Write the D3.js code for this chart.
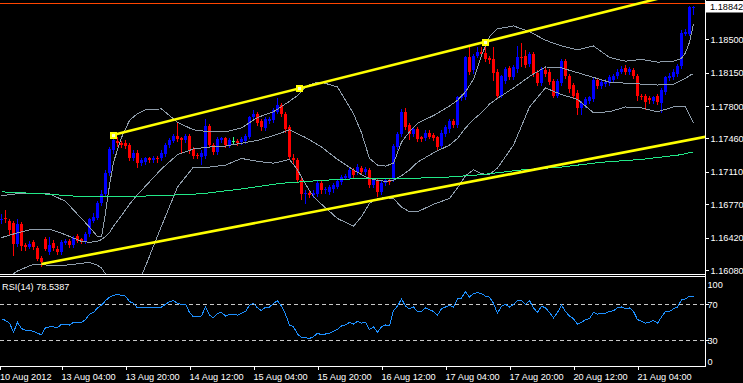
<!DOCTYPE html>
<html><head><meta charset="utf-8">
<script src="https://cdn.jsdelivr.net/npm/d3@7"></script>
<style>
html,body{margin:0;padding:0;background:#000;overflow:hidden;}
svg{display:block;}
text{font-family:"Liberation Sans",Arial,sans-serif;}
</style></head><body>
<svg id="c" width="743" height="383"></svg>
<script>
// ---------- DATA (EURUSD H1) ----------
const open = [1.1660,1.1663,1.1659,1.1657,1.1635,1.1656,1.1634,1.1632,1.1637,1.1631,
 1.1621,1.1640,1.1627,1.1636,1.1630,1.1627,1.1636,1.1638,1.1634,1.1644,
 1.1640,1.1638,1.1646,1.1659,1.1663,1.1678,1.1688,1.1710,1.1734,1.1743,
 1.1741,1.1741,1.1739,1.1725,1.1731,1.1720,1.1721,1.1725,1.1723,1.1726,
 1.1725,1.1730,1.1739,1.1743,1.1749,1.1746,1.1744,1.1749,1.1735,1.1729,
 1.1727,1.1728,1.1759,1.1739,1.1732,1.1744,1.1746,1.1739,1.1743,1.1743,
 1.1742,1.1743,1.1748,1.1768,1.1772,1.1764,1.1757,1.1764,1.1765,1.1774,
 1.1781,1.1772,1.1758,1.1726,1.1723,1.1702,1.1688,1.1689,1.1687,1.1688,
 1.1699,1.1692,1.1690,1.1693,1.1695,1.1700,1.1705,1.1705,1.1713,1.1711,
 1.1715,1.1711,1.1713,1.1697,1.1702,1.1690,1.1699,1.1702,1.1703,1.1737,
 1.1751,1.1774,1.1760,1.1751,1.1756,1.1747,1.1746,1.1752,1.1750,1.1747,
 1.1738,1.1751,1.1756,1.1764,1.1760,1.1788,1.1789,1.1831,1.1818,1.1833,
 1.1837,1.1836,1.1830,1.1829,1.1816,1.1791,1.1806,1.1820,1.1810,1.1819,
 1.1831,1.1833,1.1824,1.1835,1.1815,1.1804,1.1818,1.1816,1.1806,1.1791,
 1.1804,1.1827,1.1812,1.1802,1.1794,1.1778,1.1781,1.1785,1.1787,1.1807,
 1.1801,1.1803,1.1804,1.1807,1.1811,1.1816,1.1820,1.1816,1.1818,1.1812,
 1.1791,1.1791,1.1788,1.1785,1.1791,1.1783,1.1795,1.1809,1.1810,1.1814,
 1.1822,1.1856,1.1856,1.1884];
const high = [1.1667,1.1671,1.1661,1.1659,1.1662,1.1658,1.1636,1.1638,1.1639,1.1633,
 1.1623,1.1643,1.1643,1.1639,1.1633,1.1639,1.1640,1.1640,1.1644,1.1646,
 1.1642,1.1648,1.1663,1.1668,1.1680,1.1692,1.1713,1.1737,1.1749,1.1748,
 1.1743,1.1744,1.1741,1.1734,1.1734,1.1725,1.1727,1.1727,1.1728,1.1728,
 1.1734,1.1741,1.1746,1.1751,1.1762,1.1748,1.1751,1.1751,1.1737,1.1731,
 1.1734,1.1766,1.1761,1.1741,1.1747,1.1748,1.1748,1.1746,1.1747,1.1745,
 1.1747,1.1751,1.1770,1.1776,1.1774,1.1766,1.1768,1.1768,1.1778,1.1788,
 1.1783,1.1774,1.1760,1.1730,1.1725,1.1704,1.1692,1.1692,1.1692,1.1701,
 1.1701,1.1695,1.1697,1.1699,1.1703,1.1708,1.1709,1.1715,1.1715,1.1719,
 1.1717,1.1716,1.1715,1.1704,1.1704,1.1701,1.1704,1.1704,1.1740,1.1753,
 1.1777,1.1778,1.1762,1.1758,1.1758,1.1749,1.1755,1.1755,1.1752,1.1749,
 1.1755,1.1760,1.1766,1.1766,1.1791,1.1793,1.1833,1.1842,1.1835,1.1842,
 1.1842,1.1847,1.1832,1.1842,1.1819,1.1813,1.1821,1.1822,1.1823,1.1843,
 1.1846,1.1839,1.1837,1.1837,1.1818,1.1821,1.1820,1.1819,1.1808,1.1808,
 1.1829,1.1829,1.1814,1.1804,1.1797,1.1785,1.1789,1.1791,1.1809,1.1809,
 1.1807,1.1808,1.1813,1.1814,1.1819,1.1822,1.1823,1.1821,1.1820,1.1814,
 1.1793,1.1793,1.1790,1.1791,1.1793,1.1799,1.1812,1.1815,1.1819,1.1824,
 1.1860,1.1861,1.1885,1.1885];
const low = [1.1657,1.1658,1.1645,1.1624,1.1633,1.1629,1.1629,1.1631,1.1630,1.1618,
 1.1612,1.1629,1.1625,1.1629,1.1625,1.1625,1.1635,1.1632,1.1632,1.1637,
 1.1636,1.1636,1.1644,1.1658,1.1662,1.1676,1.1686,1.1708,1.1731,1.1738,
 1.1737,1.1736,1.1723,1.1723,1.1716,1.1718,1.1719,1.1721,1.1721,1.1721,
 1.1723,1.1728,1.1737,1.1742,1.1743,1.1732,1.1742,1.1731,1.1726,1.1725,
 1.1719,1.1726,1.1737,1.1730,1.1730,1.1742,1.1737,1.1737,1.1740,1.1739,
 1.1740,1.1741,1.1746,1.1766,1.1760,1.1755,1.1755,1.1762,1.1763,1.1773,
 1.1770,1.1753,1.1725,1.1720,1.1700,1.1683,1.1678,1.1685,1.1685,1.1686,
 1.1689,1.1689,1.1688,1.1690,1.1694,1.1698,1.1703,1.1704,1.1706,1.1709,
 1.1709,1.1709,1.1695,1.1695,1.1686,1.1688,1.1697,1.1698,1.1701,1.1735,
 1.1749,1.1756,1.1745,1.1749,1.1743,1.1743,1.1744,1.1746,1.1744,1.1735,
 1.1736,1.1749,1.1753,1.1758,1.1758,1.1786,1.1787,1.1814,1.1815,1.1831,
 1.1833,1.1827,1.1825,1.1807,1.1789,1.1789,1.1804,1.1808,1.1808,1.1816,
 1.1822,1.1821,1.1822,1.1812,1.1802,1.1802,1.1812,1.1803,1.1789,1.1789,
 1.1802,1.1809,1.1795,1.1788,1.1772,1.1772,1.1779,1.1783,1.1785,1.1799,
 1.1799,1.1801,1.1802,1.1805,1.1809,1.1815,1.1814,1.1814,1.1809,1.1786,
 1.1787,1.1777,1.1783,1.1783,1.1782,1.1774,1.1793,1.1807,1.1808,1.1812,
 1.1820,1.1854,1.1854,1.1877];
const close = [1.1662,1.1661,1.1650,1.1635,1.1656,1.1633,1.1632,1.1635,1.1632,1.1620,
 1.1616,1.1630,1.1634,1.1631,1.1627,1.1637,1.1638,1.1634,1.1642,1.1638,
 1.1638,1.1646,1.1661,1.1664,1.1678,1.1688,1.1710,1.1735,1.1744,1.1741,
 1.1739,1.1738,1.1725,1.1731,1.1720,1.1723,1.1725,1.1723,1.1726,1.1724,
 1.1731,1.1739,1.1744,1.1749,1.1745,1.1744,1.1749,1.1734,1.1728,1.1728,
 1.1731,1.1759,1.1739,1.1732,1.1745,1.1746,1.1739,1.1744,1.1743,1.1741,
 1.1745,1.1749,1.1768,1.1772,1.1762,1.1758,1.1766,1.1766,1.1776,1.1781,
 1.1772,1.1756,1.1727,1.1723,1.1702,1.1688,1.1689,1.1687,1.1689,1.1699,
 1.1692,1.1693,1.1695,1.1697,1.1701,1.1706,1.1707,1.1713,1.1708,1.1716,
 1.1711,1.1714,1.1697,1.1702,1.1690,1.1699,1.1702,1.1700,1.1738,1.1751,
 1.1774,1.1758,1.1751,1.1756,1.1745,1.1745,1.1752,1.1748,1.1746,1.1737,
 1.1752,1.1758,1.1764,1.1760,1.1789,1.1791,1.1831,1.1816,1.1833,1.1837,
 1.1835,1.1829,1.1828,1.1815,1.1791,1.1811,1.1819,1.1810,1.1821,1.1831,
 1.1830,1.1823,1.1835,1.1814,1.1804,1.1819,1.1814,1.1805,1.1791,1.1806,
 1.1827,1.1811,1.1798,1.1790,1.1778,1.1783,1.1787,1.1789,1.1807,1.1801,
 1.1805,1.1805,1.1810,1.1812,1.1816,1.1819,1.1816,1.1819,1.1811,1.1791,
 1.1789,1.1784,1.1786,1.1789,1.1784,1.1797,1.1810,1.1811,1.1816,1.1822,
 1.1857,1.1858,1.1884,1.18842];

// Bollinger bands (read at these bar indices)
const bandIdx = [0,4,8,12,16,20,22,24,25,26,27,28,30,32,34,36,40,44,48,52,56,60,64,68,72,74,76,78,80,
 84,88,90,92,94,96,98,100,102,104,108,112,114,116,118,120,122,124,128,132,136,140,144,148,152,156,160,164,168,170,171,172,173];
const bandUpper = [1.1686,1.1688,1.1688,1.1688,1.1680,1.1662,1.1653,1.1643,1.1643,1.1668,1.1697,1.1721,1.1747,1.1765,1.1772,1.1776,1.1777,1.1763,1.1755,1.1753,1.1753,1.1757,1.1768,1.1774,1.1785,1.1791,1.1800,1.1804,1.1805,
 1.1800,1.1772,1.1752,1.1725,1.1718,1.1717,1.1720,1.1742,1.1753,1.1762,1.1770,1.1780,1.1786,1.1795,1.1808,1.1833,1.1853,1.1861,1.1864,1.1858,1.1849,1.1843,1.1839,1.1843,1.1831,1.1827,1.1829,1.1826,1.1827,1.1830,1.1836,1.1847,1.1866];
const bandMiddle = [1.1642,1.1647,1.1651,1.1651,1.1645,1.1638,1.1637,1.1638,1.1640,1.1643,1.1647,1.1654,1.1665,1.1677,1.1687,1.1696,1.1714,1.1729,1.1735,1.1737,1.1738,1.1741,1.1744,1.1749,1.1755,1.1751,1.1747,1.1742,1.1737,
 1.1724,1.1713,1.1708,1.1704,1.1702,1.1701,1.1702,1.1707,1.1713,1.1721,1.1731,1.1739,1.1746,1.1757,1.1766,1.1773,1.1782,1.1788,1.1799,1.1811,1.1821,1.1820,1.1815,1.1810,1.1805,1.1804,1.1803,1.1802,1.1803,1.1807,1.1809,1.1812,1.1814];
const bandLower = [1.1595,1.1607,1.1614,1.1613,1.1613,1.1615,1.1616,1.1613,1.1610,1.1604,1.1598,1.1591,1.1584,1.1583,1.1592,1.1612,1.1654,1.1695,1.1716,1.1716,1.1718,1.1725,1.1722,1.1720,1.1724,1.1713,1.1698,1.1685,1.1677,
 1.1662,1.1654,1.1664,1.1678,1.1683,1.1684,1.1683,1.1674,1.1669,1.1669,1.1677,1.1683,1.1694,1.1707,1.1713,1.1709,1.1708,1.1715,1.1739,1.1779,1.1799,1.1792,1.1787,1.1773,1.1774,1.1779,1.1778,1.1774,1.1779,1.1780,1.1779,1.1771,1.1762];

// Long moving average (green)
const maIdx = [0,10,20,30,40,50,60,70,80,90,100,110,120,130,140,150,160,170,173];
const maVal = [1.1690,1.1688,1.1685,1.1685,1.1686,1.1688,1.1693,1.1699,1.1702,1.1704,1.1704,1.1705,1.1708,1.1713,1.1716,1.1721,1.1724,1.1729,1.1732];

// RSI(14)
const rsi = [54,52,49,39,50,43,41,41,40,38, 36,44,45,45,44,48,48,47,50,50,
 50,53,59,61,66,69,74,78,80,81, 80,79,73,71,66,66,66,66,66,67,
 67,70,73,74,71,70,70,61,56,56, 57,67,58,55,60,61,57,59,59,58,
 60,62,69,71,66,63,67,67,71,74, 68,59,47,45,37,33,33,32,34,38,
 36,37,38,40,42,46,47,50,48,51, 49,50,42,45,39,45,47,46,63,68,
 76,68,65,67,62,62,66,64,62,58, 65,67,69,67,76,77,84,78,82,83,
 82,79,78,71,60,68,70,67,70,74, 74,70,74,66,61,68,66,61,55,61,
 69,62,57,54,48,50,53,54,61,59, 60,60,62,63,66,67,65,66,62,53,
 51,49,50,52,49,56,62,62,65,67, 75,76,79,78.5387];
const rsiLevels = [70,30];
const rsiAxisTicks = [100,70,30,0];

// Trend lines & horizontal level
const trendUpIdx = [27.85,74.35,120.85];
const trendUpPrice = [1.17496,1.17984,1.18472];
const trendLowIdx = [10,174];
const trendLowPrice = [1.16143,1.17462];
const hLevel = 1.18886;
const lastPrice = 1.18842;

// Axis labels
const priceTicks = [1.16080,1.16420,1.16770,1.17110,1.17460,1.17800,1.18150,1.18500];
const timeIdx = [-0.4,15,31,47,63,79,95,111,127,143,159];
const timeLabels = ["10 Aug 2012","13 Aug 04:00","13 Aug 20:00","14 Aug 12:00","15 Aug 04:00","15 Aug 20:00","16 Aug 12:00","17 Aug 04:00","17 Aug 20:00","20 Aug 12:00","21 Aug 04:00"];

// ---------- LAYOUT ----------
const W=743,H=383, PR=705;
const MAIN_B=274.5, RSI_T=276.5, RSI_B=366.5;
const FONT=9.2;
const svg=d3.select("#c");
svg.append("rect").attr("width",W).attr("height",H).attr("fill","#000");
const defs=svg.append("defs");
defs.append("clipPath").attr("id","cm").append("rect").attr("x",0).attr("y",0).attr("width",PR).attr("height",274);
defs.append("clipPath").attr("id","cr").append("rect").attr("x",0).attr("y",277).attr("width",PR).attr("height",89);

const N=close.length;
const x=d3.scaleLinear().domain([0,N-1]).range([1.5,1.5+4*(N-1)]);
const y=d3.scaleLinear().domain([1.16080,1.18500]).range([270,39.3]);
const yr=d3.scaleLinear().domain([0,100]).range([367.3,277.3]);

const gm=svg.append("g").attr("clip-path","url(#cm)");
// candles
const cg=gm.append("g").attr("shape-rendering","crispEdges");
for(let i=0;i<N;i++){
  const cx=x(i);
  const col = close[i]>open[i] ? "#0000ff" : (close[i]<open[i] ? "#ff0000" : "#33ff88");
  const yh=Math.round(y(high[i])), yl=Math.round(y(low[i]));
  cg.append("rect").attr("x",cx-0.5).attr("y",yh).attr("width",1).attr("height",Math.max(1,yl-yh+1)).attr("fill",col);
  const yo=y(open[i]), yc=y(close[i]);
  const t=Math.round(Math.min(yo,yc)), b=Math.round(Math.max(yo,yc));
  cg.append("rect").attr("x",cx-1.5).attr("y",t).attr("width",3).attr("height",Math.max(1,b-t)).attr("fill",col);
}
// indicator lines
function path(idx,vals,ys){return d3.line().x((d,k)=>x(idx[k])).y(d=>ys(d))(vals);}
const lg=gm.append("g").attr("fill","none").attr("stroke-width",1).attr("shape-rendering","crispEdges");
[bandUpper,bandMiddle,bandLower].forEach(b=>{
  lg.append("path").attr("d",path(bandIdx,b,y)).attr("stroke","#8f9dab");
});
lg.append("path").attr("d",path(maIdx,maVal,y)).attr("stroke","#22e888");
// horizontal level
gm.append("line").attr("x1",0).attr("x2",PR).attr("y1",Math.round(y(hLevel))+0.5).attr("y2",Math.round(y(hLevel))+0.5)
  .attr("stroke","#ff4500").attr("stroke-width",1).attr("shape-rendering","crispEdges");
// trend lines
function ext(idx,pr){
  const s=(pr[pr.length-1]-pr[0])/(idx[idx.length-1]-idx[0]);
  const iEnd=x.invert(PR+2);
  return [[x(idx[0]),y(pr[0])],[x(iEnd),y(pr[0]+s*(iEnd-idx[0]))]];
}
const tg=gm.append("g").attr("stroke","#ffff00").attr("stroke-width",2.6).attr("fill","none");
tg.append("path").attr("d",d3.line()(ext(trendUpIdx,trendUpPrice)));
tg.append("path").attr("d",d3.line()(ext(trendLowIdx,trendLowPrice)));
trendUpIdx.forEach((d,k)=>{
  const px=Math.round(x(d)), py=Math.round(y(trendUpPrice[k]));
  gm.append("rect").attr("x",px-3).attr("y",py-3).attr("width",7).attr("height",7).attr("fill","#ffff00");
  gm.append("rect").attr("x",px-1).attr("y",py-1).attr("width",3).attr("height",3).attr("fill","#ffffd0");
});

// RSI panel
const gr=svg.append("g").attr("clip-path","url(#cr)");
rsiLevels.forEach(l=>{
  gr.append("line").attr("x1",0).attr("x2",PR).attr("y1",Math.round(yr(l))+0.5).attr("y2",Math.round(yr(l))+0.5)
   .attr("stroke","#c8c8c8").attr("stroke-dasharray","4,3").attr("shape-rendering","crispEdges");
});
gr.append("path").attr("d",d3.line().x((d,i)=>x(i)).y(d=>yr(d))(rsi)).attr("fill","none").attr("stroke","#1e90ff").attr("stroke-width",1).attr("shape-rendering","crispEdges");
svg.append("text").attr("x",2).attr("y",290).attr("fill","#fff").attr("font-size",FONT)
  .text("RSI(14) "+rsi[rsi.length-1]);

// frame
const fg=svg.append("g").attr("stroke","#fff").attr("stroke-width",1).attr("shape-rendering","crispEdges");
fg.append("line").attr("x1",0).attr("x2",PR+1).attr("y1",MAIN_B).attr("y2",MAIN_B);
fg.append("line").attr("x1",0).attr("x2",PR+1).attr("y1",RSI_T).attr("y2",RSI_T);
fg.append("line").attr("x1",0).attr("x2",PR+1).attr("y1",RSI_B).attr("y2",RSI_B);
fg.append("line").attr("x1",PR+0.5).attr("x2",PR+0.5).attr("y1",0).attr("y2",RSI_B+0.5);

// price axis
const ya=svg.append("g").attr("transform",`translate(${PR+0.5},0)`)
  .call(d3.axisRight(y).tickValues(priceTicks).tickFormat(d3.format(".5f")).tickSize(3).tickPadding(2));
ya.select(".domain").remove();
ya.selectAll("line").attr("stroke","#fff").attr("shape-rendering","crispEdges");
ya.selectAll("text").attr("fill","#fff").attr("font-size",FONT).attr("font-family","Liberation Sans, Arial, sans-serif").attr("x",5).attr("dy","0.34em");
// last price label
svg.append("rect").attr("x",PR+1).attr("y",1).attr("width",W-PR-1).attr("height",11.5).attr("fill","#fff");
svg.append("text").attr("x",PR+5).attr("y",y(lastPrice)).attr("dy","0.34em").attr("fill","#000").attr("font-size",FONT).text(d3.format(".5f")(lastPrice));

// RSI axis
const ra=svg.append("g").attr("transform",`translate(${PR+0.5},0)`)
  .call(d3.axisRight(yr).tickValues(rsiAxisTicks).tickFormat(d3.format("d")).tickSize(3).tickPadding(2));
ra.select(".domain").remove();
ra.selectAll("line").attr("stroke",d=>(d===100||d===0)?"none":"#fff").attr("shape-rendering","crispEdges");
ra.selectAll("text").attr("fill","#fff").attr("font-size",FONT).attr("font-family","Liberation Sans, Arial, sans-serif").attr("x",2)
  .attr("dy",d=> d===100?"1.1em":(d===0?"-0.3em":"0.34em"));

// time axis
const xa=svg.append("g").attr("transform",`translate(0,${RSI_B})`)
  .call(d3.axisBottom(x).tickValues(timeIdx).tickFormat((d,k)=>timeLabels[k]).tickSize(3).tickPadding(0));
xa.select(".domain").remove();
xa.selectAll("line").attr("stroke","#fff").attr("shape-rendering","crispEdges");
xa.selectAll("text").attr("fill","#fff").attr("font-size",FONT).attr("font-family","Liberation Sans, Arial, sans-serif")
  .attr("text-anchor","start").attr("y",13).attr("dy",0).attr("x",-0.5);
</script>
</body></html>
